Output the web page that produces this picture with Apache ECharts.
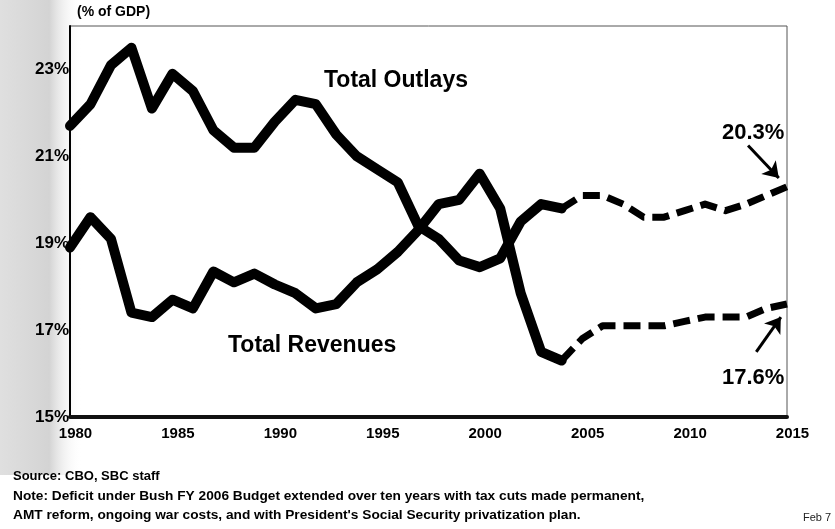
<!DOCTYPE html>
<html>
<head>
<meta charset="utf-8">
<script src="https://cdn.jsdelivr.net/npm/echarts@6/dist/echarts.min.js"></script>
<style>
  html, body { margin: 0; padding: 0; background: #ffffff; }
  #chart { width: 835px; height: 529px; }
</style>
</head>
<body>
<div id="chart"></div>
<script>
// Federal outlays and revenues, percent of GDP
const actualYears = [1980, 1981, 1982, 1983, 1984, 1985, 1986, 1987, 1988, 1989, 1990, 1991, 1992,
                     1993, 1994, 1995, 1996, 1997, 1998, 1999, 2000, 2001, 2002, 2003, 2004];
const outlaysActual = [21.7, 22.2, 23.1, 23.5, 22.1, 22.9, 22.5, 21.6, 21.2, 21.2, 21.8, 22.3, 22.2,
                       21.5, 21.0, 20.7, 20.4, 19.4, 19.1, 18.6, 18.45, 18.65, 19.5, 19.9, 19.8];
const revenuesActual = [18.9, 19.6, 19.1, 17.4, 17.3, 17.7, 17.5, 18.35, 18.1, 18.3, 18.05, 17.85, 17.5,
                        17.6, 18.1, 18.4, 18.8, 19.3, 19.9, 20.0, 20.6, 19.8, 17.85, 16.5, 16.3];

// Projection under the FY 2006 budget, extended ten years
const projYears = [2004, 2005, 2006, 2007, 2008, 2009, 2010, 2011, 2012, 2013, 2014, 2015];
const outlaysProj = [19.8, 20.1, 20.1, 19.9, 19.6, 19.6, 19.75, 19.9, 19.75, 19.9, 20.1, 20.3];
const revenuesProj = [16.3, 16.8, 17.1, 17.1, 17.1, 17.1, 17.2, 17.3, 17.3, 17.3, 17.5, 17.6];

const yTickLabels = [15, 17, 19, 21, 23];

const pairs = (xs, ys) => xs.map((x, i) => [x, ys[i]]);
const FONT = '"Liberation Sans", Arial, sans-serif';

const solidStyle = { color: '#000', width: 10, cap: 'round', join: 'round' };
const dashStyle = { color: '#000', width: 7, type: [17, 8], cap: 'butt', join: 'round' };

const lastOut = outlaysProj[outlaysProj.length - 1];
const lastRev = revenuesProj[revenuesProj.length - 1];

const arrowLine = (from, to) => ({
  silent: true, symbol: ['none', 'arrow'], symbolSize: 15,
  lineStyle: { color: '#000', width: 3, type: 'solid' },
  label: { show: false },
  emphasis: { disabled: true },
  data: [[{ coord: from }, { coord: to }]]
});

const valueLabel = (text, at) => ({
  silent: true, symbol: 'rect', symbolSize: 0,
  label: {
    show: true, position: 'inside', color: '#000', fontWeight: 'bold',
    fontSize: 22, fontFamily: FONT, formatter: text
  },
  data: [{ coord: at }]
});

const chart = echarts.init(document.getElementById('chart'), null, { renderer: 'canvas' });

chart.setOption({
  animation: false,
  backgroundColor: '#ffffff',
  textStyle: { fontFamily: FONT },
  graphic: [
    {
      type: 'rect', z: -10, silent: true,
      shape: { x: 0, y: 0, width: 82, height: 475 },
      style: {
        fill: new echarts.graphic.LinearGradient(0, 0, 1, 0, [
          { offset: 0, color: 'rgba(150,150,150,0.30)' },
          { offset: 0.6, color: 'rgba(140,140,140,0.38)' },
          { offset: 1, color: 'rgba(255,255,255,0)' }
        ])
      }
    },
    {
      type: 'text', left: 77, top: 5,
      style: { text: '(% of GDP)', font: 'bold 14px ' + FONT, fill: '#000' }
    },
    {
      type: 'text', left: 324, top: 69,
      style: { text: 'Total Outlays', font: 'bold 23px ' + FONT, fill: '#000' }
    },
    {
      type: 'text', left: 228, top: 334,
      style: { text: 'Total Revenues', font: 'bold 23px ' + FONT, fill: '#000' }
    },
    {
      type: 'text', left: 13, top: 470,
      style: { text: 'Source: CBO, SBC staff', font: 'bold 13px ' + FONT, fill: '#000' }
    },
    {
      type: 'text', left: 13, top: 489,
      style: {
        text: 'Note: Deficit under Bush FY 2006 Budget extended over ten years with tax cuts made permanent,',
        font: 'bold 13.7px ' + FONT, fill: '#000'
      }
    },
    {
      type: 'text', left: 13, top: 508,
      style: {
        text: "AMT reform, ongoing war costs, and with President's Social Security privatization plan.",
        font: 'bold 13.7px ' + FONT, fill: '#000'
      }
    },
    {
      type: 'text', left: 803, top: 512,
      style: { text: 'Feb 7', font: '11px ' + FONT, fill: '#222' }
    }
  ],
  grid: {
    left: 70, right: 48, top: 26, bottom: 112,
    show: true, borderColor: '#555', borderWidth: 1, backgroundColor: 'transparent'
  },
  xAxis: {
    type: 'value', min: 1980, max: 2015, interval: 5,
    splitLine: { show: false },
    axisTick: { show: false },
    axisLine: { show: true, lineStyle: { color: '#111', width: 4 } },
    axisLabel: {
      color: '#000', fontWeight: 'bold', fontSize: 15, fontFamily: FONT, margin: 9,
      padding: [0, 0, 0, 11],
      formatter: v => String(v)
    }
  },
  yAxis: {
    type: 'value', min: 15, max: 24, interval: 1,
    splitLine: { show: false },
    axisTick: { show: false },
    axisLine: { show: true, lineStyle: { color: '#000', width: 2 } },
    axisLabel: {
      color: '#000', fontWeight: 'bold', fontSize: 17, fontFamily: FONT, margin: 1,
      formatter: v => (yTickLabels.indexOf(v) >= 0 ? v + '%' : '')
    }
  },
  series: [
    {
      name: 'Total Outlays', type: 'line', data: pairs(actualYears, outlaysActual),
      showSymbol: false, lineStyle: solidStyle, z: 3
    },
    {
      name: 'Total Revenues', type: 'line', data: pairs(actualYears, revenuesActual),
      showSymbol: false, lineStyle: solidStyle, z: 3
    },
    {
      name: 'Total Outlays (projected)', type: 'line', data: pairs(projYears, outlaysProj),
      showSymbol: false, lineStyle: dashStyle, z: 2,
      markLine: arrowLine([2013.1, 21.25], [2014.6, 20.5]),
      markPoint: valueLabel(lastOut.toFixed(1) + '%', [2013.35, 21.55])
    },
    {
      name: 'Total Revenues (projected)', type: 'line', data: pairs(projYears, revenuesProj),
      showSymbol: false, lineStyle: dashStyle, z: 2,
      markLine: arrowLine([2013.5, 16.5], [2014.7, 17.3]),
      markPoint: valueLabel(lastRev.toFixed(1) + '%', [2013.35, 15.9])
    }
  ]
});
</script>
</body>
</html>
